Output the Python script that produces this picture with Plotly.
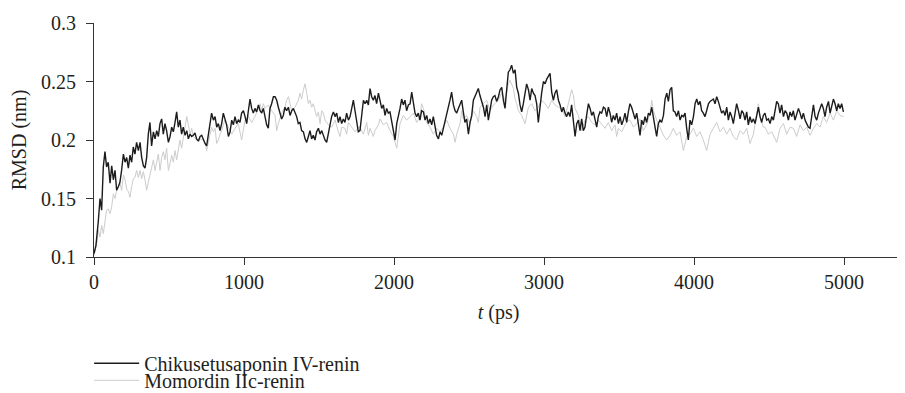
import plotly.graph_objects as go

# ---- data (t in ps, RMSD in nm) ----
chik_points = [
    (0, .103), (13, .110), (29, .131), (40, .150), (51, .140), (62, .177), (73, .190), (84, .177), (95, .181),
    (107, .163), (118, .178), (129, .166), (140, .174), (151, .157), (162, .160), (173, .164), (184, .174),
    (196, .188), (207, .181), (218, .185), (229, .176), (240, .187), (251, .181), (262, .194), (273, .188),
    (284, .198), (296, .191), (307, .198), (318, .185), (329, .178), (340, .176), (351, .185), (362, .205),
    (373, .215), (384, .195), (396, .207), (407, .201), (418, .208), (429, .203), (440, .214), (451, .218),
    (462, .205), (473, .214), (484, .208), (496, .198), (507, .203), (518, .211), (529, .207), (540, .215),
    (551, .224), (562, .211), (573, .217), (584, .205), (595, .211), (607, .204), (618, .208), (629, .201),
    (640, .205), (651, .203), (662, .204), (673, .206), (684, .201), (696, .199), (707, .203), (718, .204),
    (729, .200), (740, .197), (751, .195), (762, .205), (773, .215), (784, .223), (796, .217), (807, .220),
    (818, .211), (829, .214), (840, .208), (851, .214), (862, .223),
    (873, .218), (884, .213), (896, .203), (907, .207), (918, .217), (929, .213), (940, .220), (951, .214),
    (962, .217), (973, .215), (984, .223), (996, .225), (1007, .220), (1018, .214), (1029, .225), (1040, .235),
    (1051, .227), (1062, .223), (1073, .227), (1084, .224), (1096, .230), (1107, .225), (1118, .223),
    (1129, .227), (1140, .220), (1151, .213), (1162, .210), (1173, .227), (1184, .231), (1196, .237),
    (1207, .237), (1218, .234), (1229, .228), (1240, .223), (1251, .218), (1262, .221), (1273, .228),
    (1284, .225), (1296, .228), (1307, .221), (1318, .225), (1329, .227), (1340, .223), (1351, .220),
    (1362, .214), (1373, .215), (1384, .208), (1396, .207), (1407, .201), (1418, .198), (1429, .203),
    (1440, .208), (1451, .201), (1462, .204), (1473, .200), (1484, .207), (1496, .210), (1507, .205),
    (1518, .208), (1529, .204), (1540, .200), (1551, .198), (1562, .205), (1573, .214), (1584, .220),
    (1596, .224), (1607, .220), (1618, .223), (1629, .215), (1640, .220), (1651, .214), (1662, .218),
    (1673, .215), (1684, .223), (1696, .217), (1707, .220), (1718, .228), (1729, .234), (1740, .225),
    (1751, .214), (1762, .207),
    (1773, .208), (1784, .220), (1796, .234), (1807, .231), (1818, .234), (1829, .230), (1840, .244),
    (1851, .237), (1862, .234), (1873, .238), (1884, .231), (1896, .240), (1907, .234), (1918, .227),
    (1929, .230), (1940, .221), (1951, .227), (1962, .223), (1973, .224), (1984, .215), (1996, .208),
    (2007, .200), (2018, .214), (2029, .220), (2040, .227), (2051, .235), (2062, .230), (2073, .234),
    (2084, .225), (2096, .230), (2107, .231), (2118, .241), (2129, .230), (2140, .223), (2151, .220),
    (2162, .223), (2173, .217), (2184, .225), (2196, .224), (2207, .217), (2218, .221), (2229, .214),
    (2240, .218), (2251, .213), (2262, .220), (2273, .211), (2284, .204), (2296, .201), (2307, .207),
    (2318, .204), (2329, .210), (2340, .214), (2351, .220), (2362, .227), (2373, .234), (2384, .241),
    (2396, .230), (2407, .225), (2418, .223), (2429, .227), (2440, .231), (2451, .234), (2462, .224),
    (2473, .215), (2484, .218), (2496, .205), (2507, .215), (2518, .221), (2529, .234), (2540, .237),
    (2551, .241), (2562, .244), (2573, .238), (2584, .233), (2596, .228), (2607, .220), (2618, .230),
    (2629, .217), (2640, .228), (2651, .234), (2662, .237),
    (2673, .238), (2684, .233), (2696, .237), (2707, .243), (2718, .245), (2729, .234), (2740, .227),
    (2751, .243), (2762, .258), (2773, .260), (2784, .264), (2796, .257), (2807, .260), (2818, .245),
    (2829, .240), (2840, .230), (2851, .224), (2862, .231), (2873, .238), (2884, .248), (2896, .243),
    (2907, .234), (2918, .244), (2929, .240), (2940, .238), (2951, .231), (2962, .215), (2973, .231),
    (2984, .240), (2996, .250), (3007, .248), (3018, .252), (3029, .255), (3040, .257), (3051, .241),
    (3062, .234), (3073, .240), (3084, .243), (3096, .234), (3107, .230), (3118, .224), (3129, .228),
    (3140, .223), (3151, .220), (3162, .224), (3173, .220), (3184, .230), (3196, .217), (3207, .203),
    (3218, .214), (3229, .217), (3240, .208), (3251, .218), (3262, .208), (3273, .211), (3284, .221),
    (3296, .231), (3307, .227), (3318, .221), (3329, .224), (3340, .218), (3351, .211), (3362, .220),
    (3373, .224), (3384, .223), (3396, .228), (3407, .227), (3418, .220), (3429, .228), (3440, .223),
    (3451, .215), (3462, .221), (3473, .217), (3484, .223), (3496, .214), (3507, .220), (3518, .213),
    (3529, .217), (3540, .223), (3551, .215), (3562, .224),
    (3573, .231), (3584, .228), (3596, .223), (3607, .218), (3618, .223), (3629, .211), (3640, .204),
    (3651, .217), (3662, .213), (3673, .220), (3684, .215), (3696, .223), (3707, .221), (3718, .228),
    (3729, .218), (3740, .211), (3751, .203), (3762, .214), (3773, .217), (3784, .215), (3796, .221),
    (3807, .235), (3818, .240), (3829, .233), (3840, .243), (3851, .245), (3862, .225), (3873, .224),
    (3884, .220), (3896, .225), (3907, .217), (3918, .221), (3929, .220), (3940, .223), (3951, .210),
    (3962, .200), (3973, .217), (3984, .213), (3996, .220), (4007, .231), (4018, .235), (4029, .230),
    (4040, .233), (4051, .225), (4062, .223), (4073, .220), (4084, .225), (4096, .231), (4107, .233),
    (4118, .234), (4129, .235), (4140, .231), (4151, .237), (4162, .233), (4173, .228), (4184, .223),
    (4196, .225), (4207, .221), (4218, .228), (4229, .217), (4240, .224), (4251, .220), (4262, .214),
    (4273, .223), (4284, .231), (4296, .225), (4307, .218), (4318, .225), (4329, .223), (4340, .217),
    (4351, .224), (4362, .213), (4373, .220), (4384, .215), (4396, .218), (4407, .214), (4418, .223),
    (4429, .228), (4440, .220), (4451, .215), (4462, .221),
    (4473, .223), (4484, .217), (4496, .218), (4507, .214), (4518, .220), (4529, .217), (4540, .225),
    (4551, .233), (4562, .231), (4573, .223), (4584, .230), (4596, .220), (4607, .225), (4618, .223),
    (4629, .217), (4640, .224), (4651, .220), (4662, .225), (4673, .217), (4684, .221), (4696, .227),
    (4707, .223), (4718, .218), (4729, .223), (4740, .217), (4751, .214), (4762, .211), (4773, .210),
    (4784, .220), (4796, .230), (4807, .220), (4818, .217), (4829, .223), (4840, .227), (4851, .231),
    (4862, .227), (4873, .220), (4884, .228), (4896, .233), (4907, .223), (4918, .228), (4929, .235),
    (4940, .231), (4951, .225), (4962, .231), (4973, .227), (4984, .231), (4996, .224),
]

momo_points = [
    (0, .101), (18, .111), (29, .123), (40, .117), (51, .127), (62, .120), (73, .130), (84, .140), (95, .141),
    (107, .137), (118, .143), (129, .154), (140, .150), (151, .157), (162, .160), (173, .164), (184, .157),
    (196, .170), (207, .166), (218, .158), (229, .156), (240, .151), (251, .160), (262, .167), (273, .168),
    (284, .174), (296, .168), (307, .174), (318, .167), (329, .173), (340, .166), (351, .157), (362, .164),
    (373, .171), (384, .177), (396, .183), (407, .174), (418, .181), (429, .188), (440, .174), (451, .185),
    (462, .190), (473, .183), (484, .193), (496, .174), (507, .180), (518, .187), (529, .181), (540, .191),
    (551, .183), (562, .191), (573, .200), (584, .193), (596, .203), (607, .208), (618, .220), (629, .213),
    (640, .205), (651, .210), (662, .203), (684, .200), (707, .201), (729, .200), (740, .198), (751, .191),
    (762, .197), (773, .204), (784, .211), (796, .207), (807, .210), (818, .197), (829, .200), (840, .205),
    (851, .208), (862, .213),
    (873, .217), (896, .211), (918, .205), (940, .210), (962, .214), (984, .200), (996, .208), (1007, .217),
    (1029, .220), (1051, .215), (1073, .220), (1096, .228), (1107, .231), (1118, .225), (1129, .231),
    (1140, .227), (1162, .230), (1184, .225), (1207, .221), (1218, .208), (1229, .214), (1251, .223),
    (1273, .228), (1284, .234), (1296, .237), (1307, .231), (1318, .225), (1340, .228), (1362, .234),
    (1373, .240), (1384, .235), (1396, .243), (1407, .248), (1418, .240), (1429, .231), (1440, .234),
    (1451, .228), (1462, .231), (1473, .225), (1484, .220), (1496, .224), (1507, .214), (1518, .225),
    (1529, .223), (1540, .217), (1562, .213), (1584, .211), (1607, .217), (1629, .207), (1640, .203),
    (1651, .211), (1673, .210), (1684, .205), (1696, .215), (1718, .211), (1740, .207), (1762, .211),
    (1773, .211), (1796, .205), (1818, .215), (1829, .204), (1840, .210), (1862, .203), (1873, .208),
    (1896, .213), (1907, .218), (1929, .213), (1951, .215), (1973, .208), (1996, .203), (2018, .193),
    (2029, .205), (2040, .214), (2062, .221), (2084, .217), (2107, .220), (2129, .223), (2151, .215),
    (2173, .220), (2184, .231), (2196, .227), (2218, .215), (2240, .211), (2262, .205), (2284, .210),
    (2307, .207), (2329, .211), (2351, .217), (2373, .210), (2396, .205), (2407, .198), (2418, .205),
    (2440, .214), (2451, .225), (2462, .218), (2484, .221), (2507, .214), (2529, .225), (2551, .220),
    (2562, .215), (2573, .228), (2596, .231), (2618, .234), (2640, .225), (2662, .230),
    (2673, .231), (2696, .234), (2718, .240), (2740, .234), (2762, .248), (2773, .251), (2796, .244),
    (2807, .235), (2818, .231), (2829, .225), (2851, .221), (2873, .214), (2896, .228), (2918, .231),
    (2940, .225), (2962, .228), (2984, .234), (3007, .231), (3029, .227), (3051, .234), (3073, .230),
    (3096, .228), (3118, .227), (3140, .220), (3162, .231), (3184, .243), (3196, .238), (3207, .227),
    (3229, .221), (3251, .208), (3273, .217), (3296, .220), (3318, .215), (3340, .213), (3362, .217),
    (3384, .214), (3407, .210), (3429, .215), (3451, .208), (3473, .213), (3484, .203), (3496, .210),
    (3518, .207), (3540, .213), (3562, .217),
    (3573, .217), (3596, .211), (3618, .214), (3640, .218), (3662, .208), (3684, .213), (3707, .223),
    (3718, .234), (3729, .225), (3751, .217), (3773, .211), (3796, .204), (3818, .200), (3840, .204),
    (3862, .210), (3884, .204), (3907, .207), (3929, .191), (3951, .203), (3973, .205), (3996, .210),
    (4018, .203), (4040, .207), (4062, .200), (4084, .191), (4107, .205), (4129, .210), (4151, .215),
    (4173, .207), (4196, .211), (4218, .205), (4240, .210), (4262, .203), (4284, .200), (4307, .208),
    (4329, .205), (4351, .210), (4373, .197), (4396, .205), (4418, .225), (4429, .231), (4440, .220),
    (4462, .211),
    (4473, .211), (4496, .205), (4518, .207), (4540, .201), (4551, .198), (4573, .210), (4596, .214),
    (4618, .205), (4640, .211), (4662, .210), (4684, .203), (4707, .213), (4729, .208), (4751, .211),
    (4773, .204), (4796, .210), (4818, .214), (4840, .211), (4862, .220), (4884, .215), (4907, .223),
    (4929, .217), (4951, .225), (4973, .221), (4996, .220),
]

series_names = ["Chikusetusaponin IV-renin", "Momordin IIc-renin"]
x_tick_vals = [0, 1000, 2000, 3000, 4000, 5000]
x_tick_text = ["0", "1000", "2000", "3000", "4000", "5000"]
y_tick_vals = [0.1, 0.15, 0.2, 0.25, 0.3]
y_tick_text = ["0.1", "0.15", "0.2", "0.25", "0.3"]

t_chik = [p[0] for p in chik_points]
rmsd_chik = [p[1] for p in chik_points]
t_momo = [p[0] for p in momo_points]
rmsd_momo = [p[1] for p in momo_points]

FONT = "Liberation Serif"
TXT = "#231f20"
AX = "#333333"
FS = 20

fig = go.Figure()
fig.add_trace(go.Scatter(x=t_momo, y=rmsd_momo, mode="lines", name=series_names[1],
                         line=dict(color="#cccccc", width=1), legend="legend2"))
fig.add_trace(go.Scatter(x=t_chik, y=rmsd_chik, mode="lines", name=series_names[0],
                         line=dict(color="#1c1c1c", width=1.4), legend="legend"))

leg_common = dict(xanchor="left", yanchor="middle", orientation="v",
                  bgcolor="rgba(0,0,0,0)", borderwidth=0, itemwidth=45,
                  font=dict(family=FONT, size=FS, color=TXT))

# the page body adds an 8 px offset, so the figure is 8 px smaller than the window
fig.update_layout(
    width=897, height=385,
    margin=dict(l=86, r=2, t=15, b=136, autoexpand=False),
    paper_bgcolor="white", plot_bgcolor="white",
    font=dict(family=FONT, size=FS, color=TXT),
    showlegend=True,
    legend=dict(x=-0.006, y=-0.454, **leg_common),
    legend2=dict(x=-0.006, y=-0.527, **leg_common),
    xaxis=dict(range=[0, 5393], showgrid=False, zeroline=False, automargin=False,
               showline=True, linecolor=AX, linewidth=1.2,
               ticks="outside", ticklen=7, tickwidth=1.2, tickcolor=AX,
               tickvals=x_tick_vals, ticktext=x_tick_text,
               ticklabelstandoff=0,
               title=dict(text="<i>t</i> (ps)", standoff=12,
                          font=dict(family=FONT, size=FS, color=TXT))),
    yaxis=dict(range=[0.1, 0.3], showgrid=False, zeroline=False, automargin=False,
               showline=True, linecolor=AX, linewidth=1.2,
               ticks="outside", ticklen=7, tickwidth=1.2, tickcolor=AX,
               tickvals=y_tick_vals, ticktext=y_tick_text,
               ticklabelstandoff=6,
               title=dict(text="RMSD (nm)", standoff=10,
                          font=dict(family=FONT, size=FS, color=TXT))),
)

fig.write_html("out.html")
